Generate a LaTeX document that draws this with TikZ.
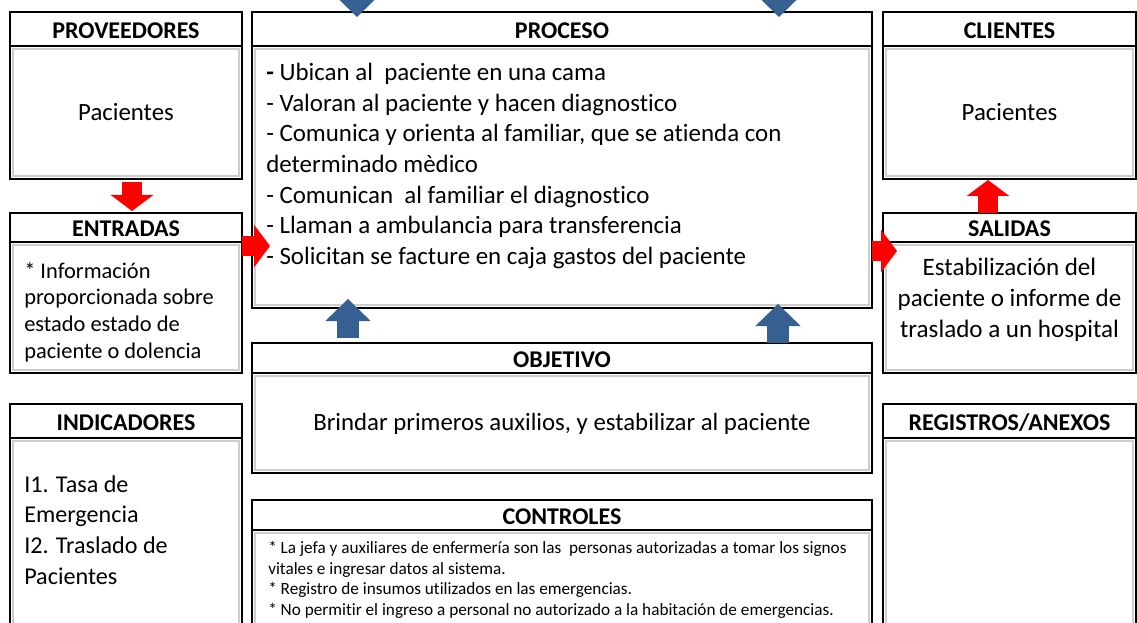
\documentclass[tikz,border=0pt]{standalone}
\usepackage{fontspec}
\setmainfont{Carlito}[Ligatures=CommonOff]
\usetikzlibrary{arrows.meta,positioning,calc}

\definecolor{azulflecha}{RGB}{54,96,146}
\definecolor{rojoflecha}{RGB}{255,0,0}
\definecolor{grisborde}{RGB}{205,205,205}

\tikzset{
    titulo/.style={draw, line width=1.8pt, outer sep=0pt, inner sep=0pt, anchor=north,
        minimum height=25.5pt, text height=13.8pt, text depth=0pt,
        font=\fontsize{18}{21}\selectfont\bfseries},
    cuerpo/.style={draw, line width=1.8pt, outer sep=0pt, inner sep=0pt,
        path picture={\draw[grisborde, line width=1.2pt]
            ([shift={(2.3pt,-2.3pt)}]path picture bounding box.north west) rectangle
            ([shift={(-2.3pt,2.3pt)}]path picture bounding box.south east);}},
    texto/.style={inner sep=0pt, align=left, font=\fontsize{18.7}{23}\selectfont},
    flechaR/.style={draw=rojoflecha, line width=15pt,
        -{Triangle[length=12pt, width=32pt, line width=0pt]}},
    flechaA/.style={draw=azulflecha, line width=16.5pt,
        -{Triangle[length=16.5pt, width=34pt, line width=0pt]}}
}

\begin{document}
\begin{tikzpicture}[x=0.75pt, y=-0.75pt]
    \useasboundingbox (0,0) rectangle (1137,623);
    \clip (0,0) rectangle (1137,623);

    % Left column
    \node[titulo, minimum width=174pt] (provh) at (126,12) {PROVEEDORES};
    \node[cuerpo, minimum width=174pt, minimum height=99.75pt, below=0pt of provh,
        font=\fontsize{18.6}{22}\selectfont] (prov) {Pacientes};
    \node[titulo, minimum width=174pt, minimum height=21.75pt] (entrh) at (126,213) {ENTRADAS};
    \node[cuerpo, minimum width=174pt, minimum height=98.25pt, below=0pt of entrh] (entr) {};
    \node[titulo, minimum width=174pt] (indh) at (126,404) {INDICADORES};
    \node[cuerpo, minimum width=174pt, minimum height=151.5pt, below=0pt of indh] (ind) {};

    % Center column
    \node[titulo, minimum width=465pt] (proch) at (562,12) {PROCESO};
    \node[cuerpo, minimum width=465pt, minimum height=196.5pt, below=0pt of proch] (proc) {};
    \node[titulo, minimum width=465pt, minimum height=22.5pt] (objh) at (562,343) {OBJETIVO};
    \node[cuerpo, minimum width=465pt, minimum height=75pt, below=0pt of objh,
        font=\fontsize{18.6}{22}\selectfont, text height=14pt] (obj) {Brindar primeros auxilios, y estabilizar al paciente};
    \node[titulo, minimum width=465pt, minimum height=22.5pt] (ctrlh) at (562,500) {CONTROLES};
    \node[cuerpo, minimum width=465pt, minimum height=82.5pt, below=0pt of ctrlh] (ctrl) {};

    % Right column
    \node[titulo, minimum width=189.75pt] (clih) at (1009.5,12) {CLIENTES};
    \node[cuerpo, minimum width=189.75pt, minimum height=99.75pt, below=0pt of clih,
        font=\fontsize{18.6}{22}\selectfont] (cli) {Pacientes};
    \node[titulo, minimum width=189.75pt, minimum height=21.75pt] (salh) at (1009.5,213) {SALIDAS};
    \node[cuerpo, minimum width=189.75pt, minimum height=98.25pt, below=0pt of salh] (sal) {};
    \node[titulo, minimum width=189.75pt] (regh) at (1009.5,404) {REGISTROS/ANEXOS};
    \node[cuerpo, minimum width=189.75pt, minimum height=151.5pt, below=0pt of regh] (reg) {};

    % Texts
    \node[texto, anchor=west] (proct) at (266,166) {%
        \textbf{-} Ubican al\ \ paciente en una cama\\
        - Valoran al paciente y hacen diagnostico\\
        - Comunica y orienta al familiar, que se atienda con\\
        determinado mèdico\\
        - Comunican\ \ al familiar el diagnostico\\
        - Llaman a ambulancia para transferencia\\
        - Solicitan se facture en caja gastos del paciente};
    \node[texto, anchor=west, font=\fontsize{16.8}{20}\selectfont] (entrt) at (24,312) {%
        * Información\\
        proporcionada sobre\\
        estado estado de\\
        paciente o dolencia};
    \node[texto, anchor=west, font=\fontsize{18.1}{23}\selectfont] (indt) at (24,530) {%
        I1. Tasa de\\
        Emergencia\\
        I2. Traslado de\\
        Pacientes};
    \node[texto, align=center, font=\fontsize{18.8}{23.25}\selectfont] (salt) at (1009.5,300) {%
        Estabilización del\\
        paciente o informe de\\
        traslado a un hospital};
    \node[texto, anchor=west, font=\fontsize{12.9}{15.5}\selectfont] (ctrlt) at (268,580) {%
        * La jefa y auxiliares de enfermería son las\ \ personas autorizadas a tomar los signos\\
        vitales e ingresar datos al sistema.\\
        * Registro de insumos utilizados en las emergencias.\\
        * No permitir el ingreso a personal no autorizado a la habitación de emergencias.};

    % Red arrows
    \coordinate (rojoA) at (132,0);
    \coordinate (rojoB) at (0,246);
    \coordinate (rojoC) at (0,251);
    \coordinate (rojoD) at (988,0);
    \draw[flechaR] ($(rojoA |- prov.south)+(0,3)$) -- ($(rojoA |- entrh.north)+(0,-2)$);
    \draw[flechaR] (entr.east |- rojoB) -- ($(proc.west |- rojoB)+(18,0)$);
    \draw[flechaR] (proc.east |- rojoC) -- ($(sal.west |- rojoC)+(14,0)$);
    \draw[flechaR] (rojoD |- salh.north) -- ($(rojoD |- cli.south)+(0,1)$);

    % Blue arrows
    \coordinate (azulA) at (357,-30);
    \coordinate (azulB) at (779,-30);
    \coordinate (azulC) at (348,0);
    \coordinate (azulD) at (778,0);
    \draw[flechaA] (azulA) -- ($(azulA |- proch.north)+(0,5)$);
    \draw[flechaA] (azulB) -- ($(azulB |- proch.north)+(0,5)$);
    \draw[flechaA] ($(azulC |- objh.north)+(0,-5)$) -- ($(azulC |- proc.south)+(0,-9)$);
    \draw[flechaA] (azulD |- objh.north) -- ($(azulD |- proc.south)+(0,-4)$);
\end{tikzpicture}
\end{document}
